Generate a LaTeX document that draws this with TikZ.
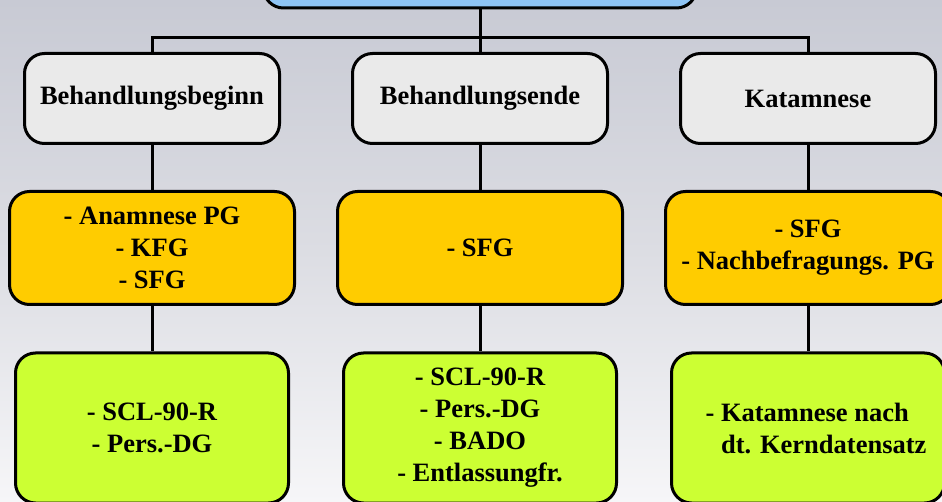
\documentclass[tikz,border=0pt]{standalone}
\usepackage{fontspec}
\setmainfont{Liberation Serif}
\definecolor{bgtop}{RGB}{200,202,212}
\definecolor{bgmid}{RGB}{220,221,227}
\definecolor{bgbot}{RGB}{246,246,248}
\definecolor{topblue}{RGB}{142,196,245}
\definecolor{headgray}{RGB}{234,234,234}
\definecolor{gold}{RGB}{255,204,0}
\definecolor{lime}{RGB}{204,255,51}
\tikzset{
  box/.style={draw=black, line width=3pt, rounded corners=20pt, align=center,
    font=\fontsize{26.5}{32}\selectfont\bfseries, inner sep=0pt},
  headbox/.style={box, fill=headgray, minimum width=255pt, minimum height=90pt},
  goldbox/.style={box, fill=gold, minimum width=285pt, minimum height=113pt},
  limebox/.style={box, fill=lime, minimum width=273pt, minimum height=150pt},
  conn/.style={draw=black, line width=3pt}
}
\begin{document}
\begin{tikzpicture}[x=1pt,y=-1pt]
\useasboundingbox (0,0) rectangle (942,502);
\clip (0,0) rectangle (942,502);
\shade[top color=bgtop, bottom color=bgbot, middle color=bgmid] (0,0) rectangle (942,502);
% top box (mostly cut off)
\node[box, fill=topblue, minimum width=433pt, minimum height=60pt] (top) at (480,-22) {};
% level 1
\node[headbox] (h1) at (152,98.5) {Behandlungsbeginn};
\node[headbox] (h2) at (480,98.5) {Behandlungsende};
\node[headbox] (h3) at (808,98.5) {Katamnese};
% level 2
\node[goldbox] (g1) at (152,248) {- Anamnese PG\\- KFG\\- SFG};
\node[goldbox] (g2) at (480,248) {- SFG};
\node[goldbox] (g3) at (808,248) {- SFG\\- Nachbefragungs. PG};
% level 3
\node[limebox] (l1) at (152,428) {- SCL-90-R\\- Pers.-DG};
\node[limebox] (l2) at (480,428) {- SCL-90-R\\- Pers.-DG\\- BADO\\- Entlassungfr.};
\node[limebox, align=left] (l3) at (808,428) {\hspace*{16pt}- Katamnese nach\\\hspace*{16pt}\hphantom{- }dt. Kerndatensatz};
% connectors
\coordinate (bus) at (480,38);
\draw[conn] (top.south) -- (h2.north);
\draw[conn] (h1.north) |- (bus) -| (h3.north);
\draw[conn] (h1.south) -- (g1.north);
\draw[conn] (h2.south) -- (g2.north);
\draw[conn] (h3.south) -- (g3.north);
\draw[conn] (g1.south) -- (l1.north);
\draw[conn] (g2.south) -- (l2.north);
\draw[conn] (g3.south) -- (l3.north);
\end{tikzpicture}
\end{document}
